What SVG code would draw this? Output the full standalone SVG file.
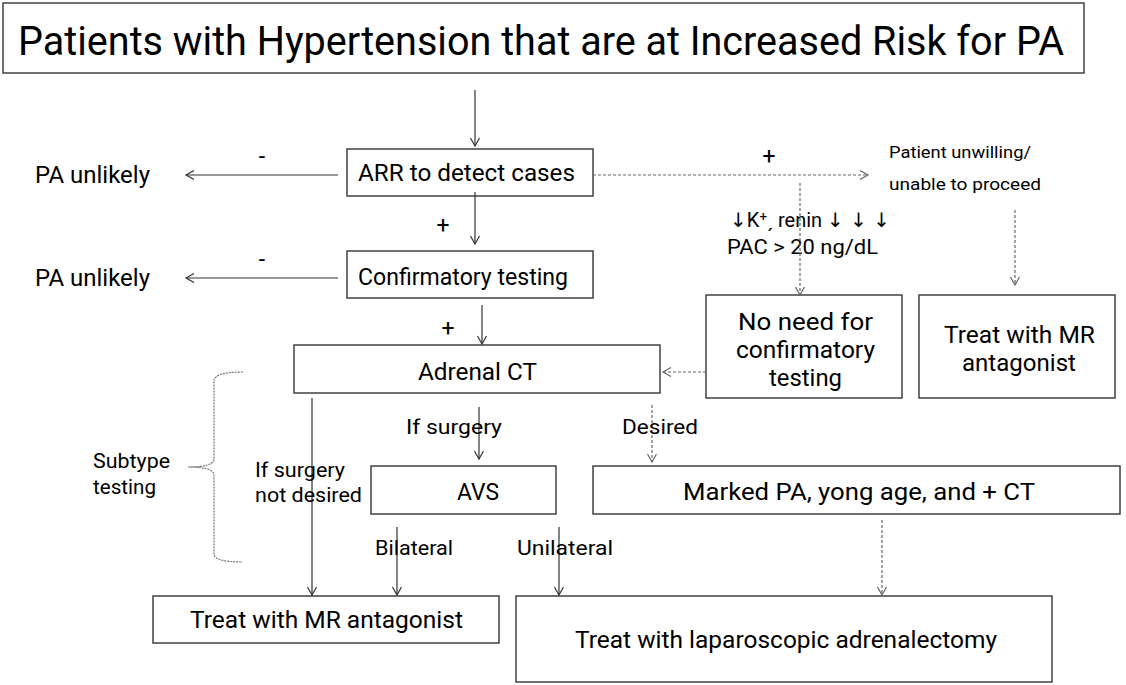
<svg xmlns="http://www.w3.org/2000/svg" width="1126" height="685" viewBox="0 0 1126 685">
<style>
  .box{fill:#fff;stroke:#404040;stroke-width:1.5}
  .t{font-family:Roboto,"Noto Sans","Liberation Sans",sans-serif;fill:#000}
  .m{font-size:23px}
  .s{font-size:20px}
  .xs{font-size:16px}
  .c{text-anchor:middle}
  .ar{font-family:"DejaVu Sans",sans-serif}
  .ln{fill:none;stroke:#333;stroke-width:1.2}
  .dl{fill:none;stroke:#666;stroke-width:1.2;stroke-dasharray:3 2}
</style>
<defs>
  <marker id="a" markerWidth="12" markerHeight="12" refX="9" refY="5" orient="auto" markerUnits="userSpaceOnUse">
    <path d="M1,0.5 L9,5 L1,9.5" fill="none" stroke="#333" stroke-width="1.2"/>
  </marker>
  <marker id="ad" markerWidth="12" markerHeight="12" refX="9" refY="5" orient="auto" markerUnits="userSpaceOnUse">
    <path d="M1,0.5 L9,5 L1,9.5" fill="none" stroke="#666" stroke-width="1.2"/>
  </marker>
</defs>

<g id="title">
  <rect class="box" x="3" y="3" width="1081" height="70"/>
  <text class="t" transform="translate(18,55) scale(1,1.18)" font-size="34" textLength="1046" lengthAdjust="spacingAndGlyphs">Patients with Hypertension that are at Increased Risk for PA</text>
</g>

<g id="arr">
  <rect class="box" x="347" y="149" width="246" height="47"/>
  <text class="t m" x="358" y="181" textLength="217" lengthAdjust="spacingAndGlyphs">ARR to detect cases</text>
</g>
<g id="unlikely1"><text class="t m" x="35" y="183" textLength="115" lengthAdjust="spacingAndGlyphs">PA unlikely</text></g>
<g id="unwilling">
  <text class="t xs" x="889" y="158" textLength="142" lengthAdjust="spacingAndGlyphs">Patient unwilling/</text>
  <text class="t xs" x="889" y="190" textLength="152" lengthAdjust="spacingAndGlyphs">unable to proceed</text>
</g>

<g id="confirm">
  <rect class="box" x="347" y="251" width="246" height="47"/>
  <text class="t m" x="358" y="285" textLength="210" lengthAdjust="spacingAndGlyphs">Confirmatory testing</text>
</g>
<g id="unlikely2"><text class="t m" x="35" y="286" textLength="115" lengthAdjust="spacingAndGlyphs">PA unlikely</text></g>

<g id="criteria">
  <text class="t s" x="730" y="227"><tspan class="ar">↓</tspan>K⁺ˏ renin <tspan class="ar">↓ ↓ ↓</tspan></text>
  <text class="t s" x="727" y="254" textLength="151" lengthAdjust="spacingAndGlyphs">PAC &gt; 20 ng/dL</text>
</g>

<g id="noneed">
  <rect class="box" x="706" y="295" width="196" height="103"/>
  <text class="t m" x="738" y="330" textLength="135" lengthAdjust="spacingAndGlyphs">No need for</text>
  <text class="t m" x="736" y="358" textLength="139" lengthAdjust="spacingAndGlyphs">confirmatory</text>
  <text class="t m" x="769" y="386" textLength="73" lengthAdjust="spacingAndGlyphs">testing</text>
</g>
<g id="mr1">
  <rect class="box" x="919" y="295" width="196" height="103"/>
  <text class="t m" x="944" y="343" textLength="151" lengthAdjust="spacingAndGlyphs">Treat with MR</text>
  <text class="t m" x="962" y="371" textLength="114" lengthAdjust="spacingAndGlyphs">antagonist</text>
</g>

<g id="ct">
  <rect class="box" x="294" y="345" width="366" height="48"/>
  <text class="t m" x="418" y="380" textLength="119" lengthAdjust="spacingAndGlyphs">Adrenal CT</text>
</g>

<g id="subtype">
  <path d="M243,372 Q216,372 214,380 L214,460 Q212,467 188,467 Q212,467 214,474 L214,555 Q216,562 243,562" fill="none" stroke="#777" stroke-width="1.2" stroke-dasharray="2 1"/>
  <text class="t s" x="93" y="468" textLength="77" lengthAdjust="spacingAndGlyphs">Subtype</text>
  <text class="t s" x="93" y="494" textLength="63" lengthAdjust="spacingAndGlyphs">testing</text>
</g>

<g id="avs">
  <rect class="box" x="371" y="466" width="185" height="48"/>
  <text class="t m" x="457" y="500" textLength="42" lengthAdjust="spacingAndGlyphs">AVS</text>
</g>
<g id="marked">
  <rect class="box" x="593" y="466" width="527" height="48"/>
  <text class="t m" x="683" y="500" textLength="352" lengthAdjust="spacingAndGlyphs">Marked PA, yong age, and + CT</text>
</g>

<g id="mr2">
  <rect class="box" x="153" y="596" width="346" height="47"/>
  <text class="t m" x="190" y="628" textLength="273" lengthAdjust="spacingAndGlyphs">Treat with MR antagonist</text>
</g>
<g id="lap">
  <rect class="box" x="516" y="596" width="536" height="86"/>
  <text class="t m" x="575" y="648" textLength="422" lengthAdjust="spacingAndGlyphs">Treat with laparoscopic adrenalectomy</text>
</g>

<g id="connectors">
  <line class="ln" x1="475" y1="90" x2="475" y2="146" marker-end="url(#a)"/>
  <line class="ln" x1="338" y1="175" x2="186" y2="175" marker-end="url(#a)"/>
  <text class="t m c" x="262" y="164">-</text>
  <line class="dl" x1="593" y1="175" x2="868" y2="175" marker-end="url(#ad)"/>
  <text class="t m c" x="769" y="164">+</text>
  <line class="ln" x1="475" y1="192" x2="475" y2="244" marker-end="url(#a)"/>
  <text class="t m c" x="443" y="233">+</text>
  <line class="ln" x1="338" y1="278" x2="186" y2="278" marker-end="url(#a)"/>
  <text class="t m c" x="262" y="267">-</text>
  <line class="dl" x1="800" y1="183" x2="800" y2="295" marker-end="url(#ad)"/>
  <line class="dl" x1="1015" y1="210" x2="1015" y2="285" marker-end="url(#ad)"/>
  <line class="ln" x1="482" y1="305" x2="482" y2="344" marker-end="url(#a)"/>
  <text class="t m c" x="448" y="336">+</text>
  <line class="dl" x1="706" y1="372" x2="663" y2="372" marker-end="url(#ad)"/>
  <line class="ln" x1="312" y1="398" x2="312" y2="595" marker-end="url(#a)"/>
  <text class="t s" x="255" y="477" textLength="90" lengthAdjust="spacingAndGlyphs">If surgery</text>
  <text class="t s" x="255" y="502" textLength="107" lengthAdjust="spacingAndGlyphs">not desired</text>
  <line class="ln" x1="479" y1="407" x2="479" y2="459" marker-end="url(#a)"/>
  <text class="t s" x="406" y="434" textLength="96" lengthAdjust="spacingAndGlyphs">If surgery</text>
  <line class="dl" x1="652" y1="405" x2="652" y2="462" marker-end="url(#ad)"/>
  <text class="t s" x="622" y="434" textLength="76" lengthAdjust="spacingAndGlyphs">Desired</text>
  <line class="ln" x1="397" y1="527" x2="397" y2="595" marker-end="url(#a)"/>
  <text class="t s" x="375" y="555" textLength="78" lengthAdjust="spacingAndGlyphs">Bilateral</text>
  <line class="ln" x1="559" y1="527" x2="559" y2="595" marker-end="url(#a)"/>
  <text class="t s" x="517" y="555" textLength="96" lengthAdjust="spacingAndGlyphs">Unilateral</text>
  <line class="dl" x1="882" y1="520" x2="882" y2="595" marker-end="url(#ad)"/>
</g>
</svg>
